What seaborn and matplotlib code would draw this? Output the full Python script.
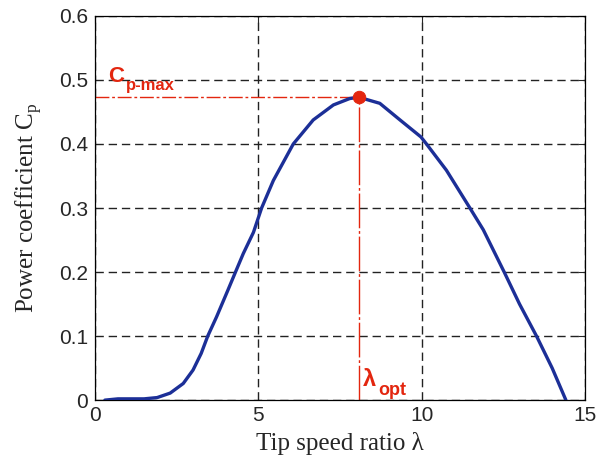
import pandas as pd
import seaborn as sns
import matplotlib.pyplot as plt

# Curva Cp(lambda)
tsr = [0.3, 0.7, 1.0, 1.5, 1.9, 2.3, 2.7, 3.0, 3.25, 3.45, 3.72, 4.07, 4.3,
       4.54, 4.85, 5.1, 5.46, 6.07, 6.68, 7.3, 7.8, 8.08, 8.72, 9.34, 9.98,
       10.15, 10.76, 11.48, 11.89, 12.53, 13.0, 13.52, 14.0, 14.42]
cp = [0.0, 0.002, 0.002, 0.002, 0.004, 0.011, 0.026, 0.047, 0.073, 0.1,
      0.13, 0.172, 0.2, 0.229, 0.262, 0.3, 0.343, 0.4, 0.4375, 0.461,
      0.471, 0.473, 0.4635, 0.4375, 0.411, 0.4, 0.359, 0.3, 0.266, 0.2,
      0.15, 0.1, 0.05, 0.0]

lambda_opt = 8.08
cp_max = 0.473

xticks = [0, 5, 10, 15]
yticks = [0, 0.1, 0.2, 0.3, 0.4, 0.5, 0.6]

sns.set_style("white")
plt.rcParams["font.family"] = ["Liberation Sans", "DejaVu Sans"]
plt.rcParams["mathtext.fontset"] = "custom"
plt.rcParams["mathtext.rm"] = "Liberation Serif"

df = pd.DataFrame({"tsr": tsr, "cp": cp})
peak = pd.DataFrame({"tsr": [lambda_opt], "cp": [cp_max]})

fig = plt.figure(figsize=(5.98, 4.68), dpi=100)
ax = fig.add_axes([0.159, 0.145, 0.819, 0.821])

red = "#e3260f"
ax.plot([0, lambda_opt], [cp_max, cp_max], color=red, lw=1.0,
        dashes=(10, 2, 2, 2), zorder=2)
ax.plot([lambda_opt, lambda_opt], [0, cp_max], color=red, lw=1.0,
        dashes=(25, 2, 2, 2), zorder=2)

sns.lineplot(data=df, x="tsr", y="cp", color="#1c2f97", lw=2.4, ax=ax,
             zorder=3)
sns.scatterplot(data=peak, x="tsr", y="cp", color=red, s=80,
                edgecolor=red, ax=ax, zorder=4)

ax.set_xlim(0, 15)
ax.set_ylim(0, 0.6)
ax.set_xticks(xticks)
ax.set_yticks(yticks)
ax.set_xticklabels([str(t) for t in xticks])
ax.set_yticklabels(["0"] + [f"{t:.1f}" for t in yticks[1:]])
ax.grid(True, color="#222222", linestyle=(0, (6, 3.5)), lw=1.0)
ax.tick_params(direction="in", length=5, width=0.8, labelsize=15,
               top=True, right=True, labeltop=False, labelright=False)
ax.tick_params(axis="x", pad=4)
ax.tick_params(axis="y", pad=5)
for s in ax.spines.values():
    s.set_color("black")
    s.set_linewidth(0.9)

serif = ["Liberation Serif", "DejaVu Serif"]
ax.set_xlabel("Tip speed ratio λ", family=serif, fontsize=18, labelpad=5)
ax.set_ylabel("Power coefficient C$_\\mathrm{p}$", family=serif,
              fontsize=18, labelpad=11)

# etiquetas rojas: letra principal + subíndice
ax.text(0.4, 0.497, "C", color=red, fontsize=16, fontweight="bold")
ax.text(0.93, 0.484, "p-max", color=red, fontsize=12, fontweight="bold")
ax.text(8.2, 0.022, "λ", color=red, fontsize=17, fontweight="bold")
ax.text(8.68, 0.008, "opt", color=red, fontsize=13, fontweight="bold")

fig.savefig("out.png", dpi=100)
